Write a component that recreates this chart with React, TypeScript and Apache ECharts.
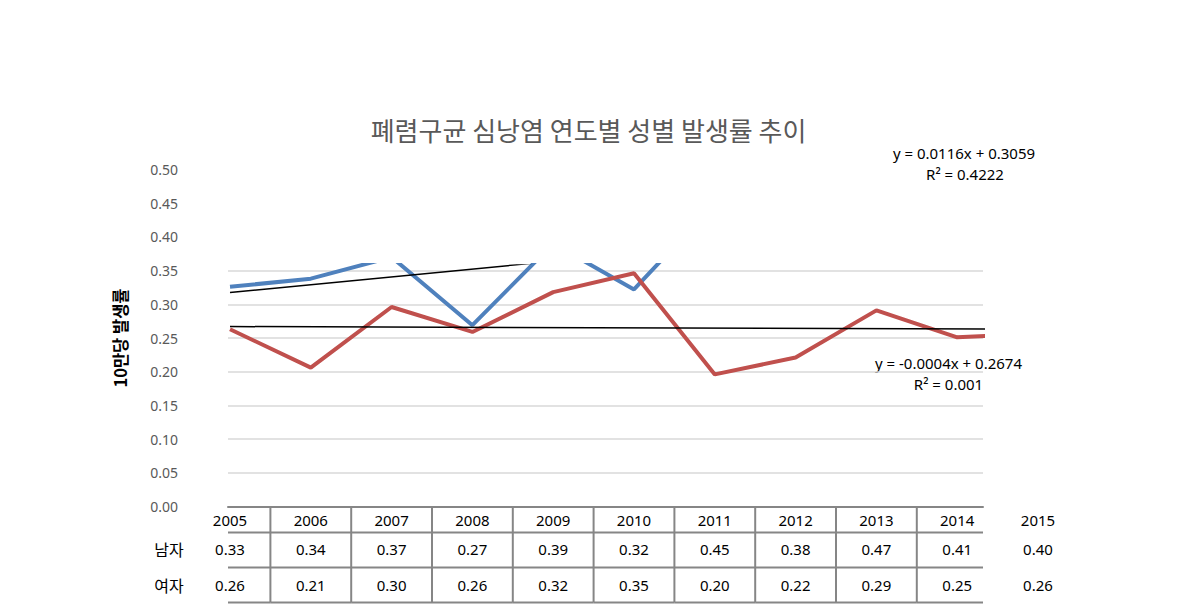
import React, { useEffect, useRef } from "react";
import * as echarts from "echarts";

const years = [2005, 2006, 2007, 2008, 2009, 2010, 2011, 2012, 2013, 2014, 2015];
const maleRates = [0.326, 0.338, 0.37, 0.269, 0.39, 0.322, 0.45, 0.38, 0.47, 0.41, 0.4];
const femaleRates = [0.263, 0.206, 0.296, 0.259, 0.318, 0.346, 0.196, 0.221, 0.291, 0.251, 0.257];
const rowLabels = ["남자", "여자"];
const maleTrend = { slope: 0.0116, intercept: 0.3059, r2: "0.4222" };
const femaleTrend = { slope: -0.0004, intercept: 0.2674, r2: "0.001" };
const titleText = "폐렴구균 심낭염 연도별 성별 발생률 추이";
const yAxisName = "10만당 발생률";
const yMax = 0.5;
const yStep = 0.05;

// layout
const X0 = 230;
const FULL_W = 808; // 2005 -> 2015
const Y_ZERO = 506.5;
const PLOT_H = 337; // 0 -> 0.5
const CLIP_RIGHT = 983;
const CLIP_TOP = 265;

const KR = '"Noto Sans CJK KR", "Noto Sans", sans-serif';
const NUM = '"Noto Sans", "Liberation Sans", sans-serif';

function eq(t: { slope: number; intercept: number }) {
  const s = t.slope < 0 ? "-" + Math.abs(t.slope).toFixed(4) : t.slope.toFixed(4);
  return `y = ${s}x + ${t.intercept.toFixed(4)}`;
}

export default function App() {
  const ref = useRef<HTMLDivElement>(null);
  useEffect(() => {
    if (!ref.current) return;
    const chart = echarts.init(ref.current, undefined, { renderer: "svg" });
    const firstYear = years[0];
    const lastYear = years[years.length - 1];
    const pxPerYear = FULL_W / (lastYear - firstYear);
    const clipW = CLIP_RIGHT - X0;
    const clipYear = firstYear + clipW / pxPerYear;
    const clipH = Y_ZERO - CLIP_TOP;
    const clipMax = (clipH / PLOT_H) * yMax;
    const gridTop = Y_ZERO - (0.35 / yMax) * PLOT_H;

    const trendData = (t: { slope: number; intercept: number }) => [
      [firstYear, t.intercept + t.slope * 1],
      [lastYear, t.intercept + t.slope * years.length],
    ];

    const tableData = years.map((y, i) => [y, maleRates[i], femaleRates[i]]);

    const centered = { align: "center", verticalAlign: "middle", textAlign: "center", textVerticalAlign: "middle" };

    chart.setOption({
      animation: false,
      title: {
        text: titleText,
        left: "center",
        top: 111,
        textStyle: { fontFamily: KR, fontSize: 26, fontWeight: "normal", color: "#595959" },
      },
      grid: [
        { left: X0, top: Y_ZERO - PLOT_H, width: FULL_W, height: PLOT_H },
        { left: X0, top: CLIP_TOP, width: clipW, height: clipH },
        { left: X0 - 2, top: gridTop, width: clipW + 2, height: Y_ZERO - gridTop },
        { left: X0, top: Y_ZERO, width: FULL_W, height: 96 },
      ],
      xAxis: [
        { gridIndex: 0, type: "value", min: firstYear, max: lastYear, show: false },
        { gridIndex: 1, type: "value", min: firstYear, max: clipYear, show: false },
        {
          gridIndex: 2, type: "value", min: 0, max: 1,
          axisLine: { show: true, lineStyle: { color: "#868686", width: 2 } },
          axisTick: { show: false }, axisLabel: { show: false }, splitLine: { show: false },
        },
        { gridIndex: 3, type: "value", min: firstYear, max: lastYear, show: false },
      ],
      yAxis: [
        {
          gridIndex: 0, type: "value", min: 0, max: yMax, interval: yStep,
          axisLine: { show: false }, axisTick: { show: false }, splitLine: { show: false },
          axisLabel: {
            formatter: (v: number) => v.toFixed(2), margin: 52,
            color: "#595959", fontSize: 14, fontFamily: NUM,
          },
          name: yAxisName, nameLocation: "middle", nameGap: 102, nameRotate: 90,
          nameTextStyle: { fontFamily: KR, fontSize: 16.5, fontWeight: "bold", color: "#000" },
        },
        { gridIndex: 1, type: "value", min: 0, max: clipMax, show: false },
        {
          gridIndex: 2, type: "value", min: 0, max: 0.35, interval: yStep,
          axisLine: { show: false }, axisTick: { show: false }, axisLabel: { show: false },
          splitLine: { show: true, lineStyle: { color: "#d9d9d9", width: 1.5 } },
        },
        { gridIndex: 3, type: "value", min: 0, max: 96, inverse: true, show: false },
      ],
      series: [
        {
          type: "line", name: "남자", xAxisIndex: 1, yAxisIndex: 1, clip: true,
          data: years.map((y, i) => [y, maleRates[i]]),
          symbol: "none", lineStyle: { color: "#4F81BD", width: 4 }, z: 3,
        },
        {
          type: "line", name: "여자", xAxisIndex: 1, yAxisIndex: 1, clip: true,
          data: years.map((y, i) => [y, femaleRates[i]]),
          symbol: "none", lineStyle: { color: "#C0504D", width: 4 }, z: 3,
        },
        {
          type: "line", xAxisIndex: 1, yAxisIndex: 1, clip: true,
          data: trendData(maleTrend), symbol: "none",
          lineStyle: { color: "#000", width: 1.5 }, z: 4,
        },
        {
          type: "line", xAxisIndex: 1, yAxisIndex: 1, clip: true,
          data: trendData(femaleTrend), symbol: "none",
          lineStyle: { color: "#000", width: 1.5 }, z: 4,
        },
        {
          type: "custom", xAxisIndex: 3, yAxisIndex: 3, clip: false,
          data: tableData,
          renderItem: (params: any, api: any) => {
            const year = api.value(0);
            const m = api.value(1);
            const f = api.value(2);
            const cs = params.coordSys;
            const x = api.coord([year, 0])[0];
            const w = api.size([1, 0])[0];
            const right = api.coord([clipYear, 0])[0];
            const top = cs.y;
            const children: any[] = [];
            const txt = (t: string, yy: number) => ({
              type: "text",
              style: {
                text: t, x, y: top + yy, ...centered,
                fill: "#000", fontSize: 15, fontFamily: NUM,
              },
            });
            children.push(txt(String(year), 13));
            children.push(txt(m.toFixed(2), 42));
            children.push(txt(f.toFixed(2), 78));
            if (year < clipYear) {
              const xl = Math.max(x - w / 2, cs.x - 2);
              const xr = Math.min(x + w / 2, right);
              [26, 61, 96].forEach((yy) => {
                children.push({
                  type: "line",
                  shape: { x1: xl, y1: top + yy, x2: xr, y2: top + yy },
                  style: { stroke: "#868686", lineWidth: 2 },
                });
              });
              if (x + w / 2 < right) {
                children.push({
                  type: "line",
                  shape: { x1: x + w / 2, y1: top, x2: x + w / 2, y2: top + 96 },
                  style: { stroke: "#868686", lineWidth: 2 },
                });
              }
            }
            return { type: "group", children };
          },
        },
      ],
      graphic: [
        ...rowLabels.map((t, i) => ({
          type: "text", x: 169, y: [549, 585][i],
          style: { text: t, fill: "#000", font: `16px ${KR}`, ...centered },
        })),
        {
          type: "text", x: 964, y: 153,
          style: { text: eq(maleTrend), fill: "#000", font: `15px ${NUM}`, ...centered },
        },
        {
          type: "text", x: 965, y: 174,
          style: { text: `R² = ${maleTrend.r2}`, fill: "#000", font: `15px ${NUM}`, ...centered },
        },
        {
          type: "text", x: 948.5, y: 363,
          style: { text: eq(femaleTrend), fill: "#000", font: `15px ${NUM}`, ...centered },
        },
        {
          type: "text", x: 948.5, y: 384,
          style: { text: `R² = ${femaleTrend.r2}`, fill: "#000", font: `15px ${NUM}`, ...centered },
        },
      ],
    });
    return () => chart.dispose();
  }, []);
  return (
    <div
      ref={ref}
      style={{ position: "fixed", left: 0, top: 0, width: 1177, height: 606, background: "#fff" }}
    />
  );
}
